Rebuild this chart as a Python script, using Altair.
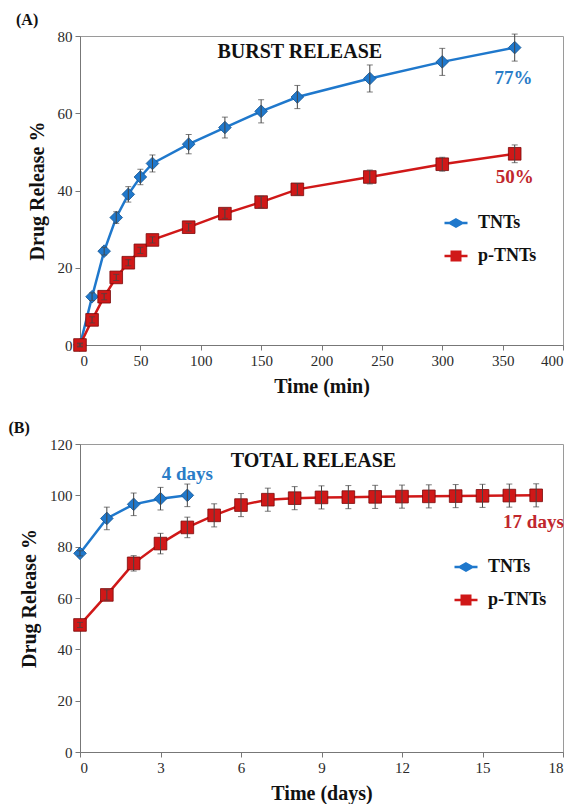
import altair as alt
import pandas as pd

# ---------- Panel A: burst release (minutes) ----------
time_min = [0, 10, 20, 30, 40, 50, 60, 90, 120, 150, 180, 240, 300, 360]
tnts_a = [0, 12.5, 24.3, 33, 39, 43.5, 47, 52, 56.3, 60.5, 64.2, 69, 73.3, 77]
tnts_a_err = [0.5, 1, 1, 1.5, 2, 2, 2.2, 2.5, 2.7, 3, 3, 3.5, 3.5, 3.5]
ptnts_a = [0, 6.5, 12.5, 17.5, 21.3, 24.5, 27.2, 30.5, 34, 37, 40.3, 43.5, 46.8, 49.5]
ptnts_a_err = [0.3, 0.8, 0.8, 0.8, 0.8, 0.8, 0.8, 1, 1.2, 1.5, 1.5, 1.8, 1.8, 2.3]

# ---------- Panel B: total release (days) ----------
days_tnts = [0, 1, 2, 3, 4]
tnts_b = [77.4, 91, 96.5, 98.7, 100]
tnts_b_err = [1, 4.4, 4.4, 4.4, 4.4]
days_ptnts = [0, 1, 2, 3, 4, 5, 6, 7, 8, 9, 10, 11, 12, 13, 14, 15, 16, 17]
ptnts_b = [49.5, 61.2, 73.5, 81.2, 87.5, 92.2, 96.2, 98.3, 98.9, 99.2, 99.3, 99.4, 99.5, 99.6, 99.7, 99.8, 99.9, 100]
ptnts_b_err = [1, 2, 3, 4, 4, 4.5, 4.5, 4.5, 4.5, 4.5, 4.5, 4.5, 4.5, 4.5, 4.5, 4.5, 4.5, 4.5]

series_names = ["TNTs", "p-TNTs"]
series_colors = ["#1f78cc", "#d01818"]
series_edges = ["#15548f", "#7a0a0a"]
series_shapes = ["diamond", "square"]
legend_paths = [
    "M-2.3,0L2.3,0M0,-0.7L1.25,0L0,0.7L-1.25,0Z",
    "M-2.3,0L2.3,0M-0.85,-0.85L0.85,-0.85L0.85,0.85L-0.85,0.85Z",
]

# annotations
ann_a_text = ["BURST RELEASE", "77%", "50%"]
ann_a_x = [182, 359, 360]
ann_a_y = [75.8, 69, 43.5]
ann_a_size = [20, 19, 19]
ann_a_col = ["#111111", "#2a7cc7", "#c0272d"]

ann_b_text = ["TOTAL RELEASE", "4 days", "17 days"]
ann_b_x = [8.7, 4.0, 16.9]
ann_b_y = [113.4, 108.5, 89.7]
ann_b_size = [20, 19, 19]
ann_b_col = ["#111111", "#2a7cc7", "#c0272d"]

FONT = "Liberation Serif"


def build_df(xs_list, ys_list, es_list):
    rows = []
    for name, col, edge, shp, xs, ys, es in zip(series_names, series_colors, series_edges,
                                               series_shapes, xs_list, ys_list, es_list):
        for x, y, e in zip(xs, ys, es):
            rows.append({"x": x, "y": y, "lo": y - e, "hi": y + e,
                         "series": name, "col": col, "edge": edge, "shp": shp})
    return pd.DataFrame(rows)


def panel(df, ann, xdom, xstep, xtitle, ydom, ystep, w, h, label, lx, ly):
    xs = alt.Scale(domain=xdom, nice=False)
    ys = alt.Scale(domain=ydom, nice=False)
    xax = alt.Axis(values=list(range(xdom[0], xdom[1] + 1, xstep)), title=xtitle)
    yax = alt.Axis(values=list(range(ydom[0], ydom[1] + 1, ystep)), title="Drug Release %")
    base = alt.Chart(df)
    X = alt.X("x:Q", scale=xs, axis=xax)
    Y = alt.Y("y:Q", scale=ys, axis=yax)

    lines = base.mark_line(strokeWidth=2.5).encode(
        x=X, y=Y, detail="series:N", color=alt.Color("col:N", scale=None))
    pts = base.mark_point(filled=True, size=160, opacity=1, strokeWidth=0.8).encode(
        x=X, y=Y,
        fill=alt.Fill("col:N", scale=None),
        stroke=alt.Stroke("edge:N", scale=None),
        shape=alt.Shape("shp:N", scale=None))
    err = base.mark_rule(color="#444444", strokeWidth=1).encode(
        x=X, y=alt.Y("lo:Q", scale=ys, axis=yax), y2="hi:Q")
    cap_lo = base.mark_tick(color="#444444", thickness=1, size=6, orient="horizontal").encode(
        x=X, y=alt.Y("lo:Q", scale=ys, axis=yax))
    cap_hi = base.mark_tick(color="#444444", thickness=1, size=6, orient="horizontal").encode(
        x=X, y=alt.Y("hi:Q", scale=ys, axis=yax))

    lg = alt.Legend(title=None, orient="none", legendX=lx, legendY=ly)
    leg = base.transform_filter("false").mark_point(filled=True, size=100).encode(
        x=X, y=Y,
        fill=alt.Fill("series:N", scale=alt.Scale(domain=series_names, range=series_colors), legend=lg),
        stroke=alt.Stroke("series:N", scale=alt.Scale(domain=series_names, range=series_colors), legend=lg),
        shape=alt.Shape("series:N", scale=alt.Scale(domain=series_names, range=legend_paths), legend=lg),
    )

    adf = pd.DataFrame({"t": ann[0], "x": ann[1], "y": ann[2], "s": ann[3], "c": ann[4]})
    txt = alt.Chart(adf).mark_text(font=FONT, fontWeight="bold").encode(
        x=alt.X("x:Q", scale=xs, axis=xax), y=alt.Y("y:Q", scale=ys, axis=yax),
        text="t:N", color=alt.Color("c:N", scale=None), size=alt.Size("s:Q", scale=None))

    return alt.layer(lines, pts, err, cap_lo, cap_hi, leg, txt).properties(
        width=w, height=h,
        title=alt.TitleParams(label, anchor="start", frame="bounds", font=FONT, dx=-11,
                              fontSize=16, fontWeight="bold", color="#111111", offset=1))


df_a = build_df([time_min, time_min], [tnts_a, ptnts_a], [tnts_a_err, ptnts_a_err])
df_b = build_df([days_tnts, days_ptnts], [tnts_b, ptnts_b], [tnts_b_err, ptnts_b_err])

pa = panel(df_a, (ann_a_text, ann_a_x, ann_a_y, ann_a_size, ann_a_col), [0, 400], 50, "Time (min)",
           [0, 80], 20, 483, 309, "(A)", 367, 178)
pb = panel(df_b, (ann_b_text, ann_b_x, ann_b_y, ann_b_size, ann_b_col), [0, 18], 3, "Time (days)",
           [0, 120], 20, 483, 308, "(B)", 377, 114)

chart = alt.vconcat(pa, pb, spacing=22).properties(
    padding={"left": 0, "top": 3, "right": 3, "bottom": 0}
).resolve_scale(
    fill="independent", stroke="independent", shape="independent"
).resolve_legend(
    fill="independent", stroke="independent", shape="independent"
).configure_view(
    stroke="#9a9a9a", strokeWidth=1
).configure_axis(
    labelFont=FONT, labelFontSize=15, labelColor="#2a2a2a",
    titleFont=FONT, titleFontSize=20, titleFontWeight="bold", titleColor="#111111",
    domainColor="#777777", tickColor="#777777", tickSize=5, grid=False,
    labelPadding=3, titlePadding=8
).configure_axisY(
    titlePadding=10
).configure_legend(
    labelFont=FONT, labelFontSize=18, labelFontWeight="bold", labelColor="#111111",
    symbolStrokeWidth=2.5, rowPadding=14, labelOffset=13, symbolSize=100, padding=0
)

chart.save("out.html", embed_options={"renderer": "svg", "actions": False})
